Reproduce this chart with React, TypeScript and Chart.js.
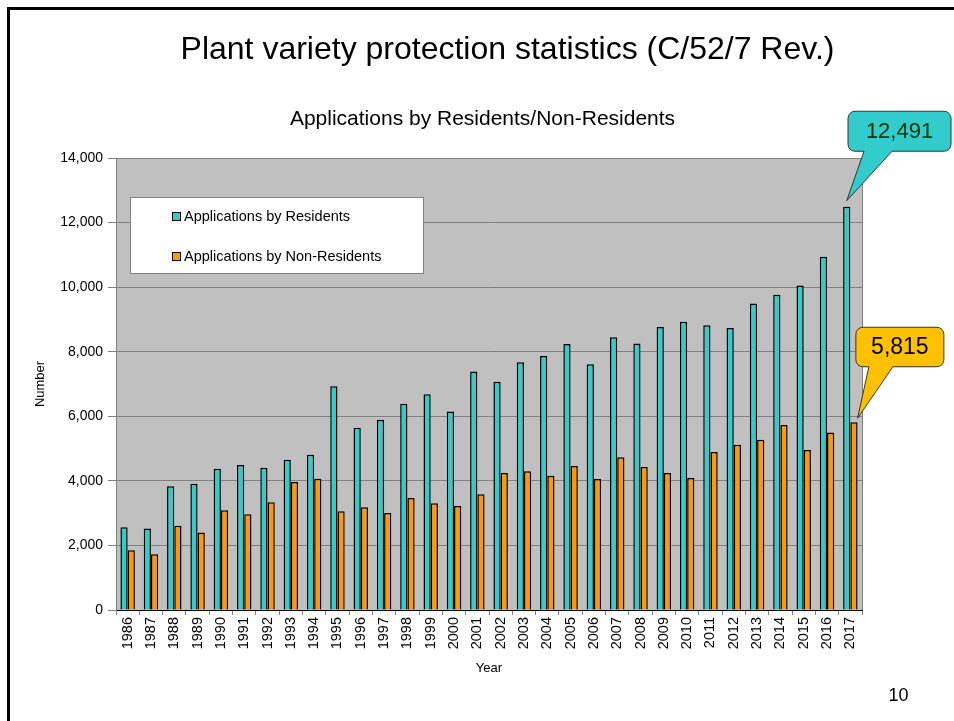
import { useEffect, useRef } from "react";
import { Chart, registerables } from "chart.js";

Chart.register(...registerables);

const years = [
  "1986", "1987", "1988", "1989", "1990", "1991", "1992", "1993", "1994", "1995", "1996",
  "1997", "1998", "1999", "2000", "2001", "2002", "2003", "2004", "2005", "2006", "2007",
  "2008", "2009", "2010", "2011", "2012", "2013", "2014", "2015", "2016", "2017",
];

const residents = [
  2565, 2524, 3832, 3914, 4378, 4491, 4409, 4656, 4811, 6932, 5645,
  5892, 6386, 6685, 6150, 7386, 7067, 7674, 7870, 8241, 7612, 8447,
  8251, 8766, 8931, 8818, 8735, 9496, 9765, 10053, 10940, 12491,
];

const nonResidents = [
  1854, 1730, 2606, 2400, 3090, 2967, 3337, 3966, 4069, 3059, 3183,
  3008, 3472, 3307, 3224, 3585, 4244, 4296, 4162, 4460, 4058, 4728,
  4429, 4244, 4089, 4893, 5120, 5275, 5727, 4954, 5501, 5815,
];

const seriesNames = ["Applications by Residents", "Applications by Non-Residents"];
const seriesColors = ["#33CCCC", "#FF9900"];
const calloutFills = ["#33CCCC", "#FFC000"];
const calloutTextColors = ["#003300", "#000000"];

const FONT = "'Liberation Sans', Arial, sans-serif";

function calloutPath(
  ctx: CanvasRenderingContext2D,
  x: number, y: number, w: number, h: number, r: number,
  b1: number, b2: number, tx: number, ty: number
) {
  ctx.beginPath();
  ctx.moveTo(x + r, y);
  ctx.lineTo(x + w - r, y);
  ctx.arcTo(x + w, y, x + w, y + r, r);
  ctx.lineTo(x + w, y + h - r);
  ctx.arcTo(x + w, y + h, x + w - r, y + h, r);
  ctx.lineTo(b2, y + h);
  ctx.lineTo(tx, ty);
  ctx.lineTo(b1, y + h);
  ctx.lineTo(x + r, y + h);
  ctx.arcTo(x, y + h, x, y + h - r, r);
  ctx.lineTo(x, y + r);
  ctx.arcTo(x, y, x + r, y, r);
  ctx.closePath();
}

const plotBgPlugin = {
  id: "plotBg",
  beforeDraw(chart: any) {
    const { ctx, chartArea } = chart;
    ctx.save();
    ctx.fillStyle = "#C0C0C0";
    ctx.fillRect(chartArea.left, chartArea.top, chartArea.right - chartArea.left, chartArea.bottom - chartArea.top);
    ctx.restore();
  },
  beforeDatasetsDraw(chart: any) {
    const { ctx, chartArea } = chart;
    ctx.save();
    ctx.strokeStyle = "#808080";
    ctx.lineWidth = 1;
    ctx.beginPath();
    ctx.moveTo(chartArea.left, chartArea.top + 0.5);
    ctx.lineTo(chartArea.right + 0.5, chartArea.top + 0.5);
    ctx.lineTo(chartArea.right + 0.5, chartArea.bottom);
    ctx.stroke();
    ctx.restore();
  },
};

const calloutPlugin = {
  id: "callouts",
  afterDatasetsDraw(chart: any) {
    const { ctx } = chart;
    const last = years.length - 1;
    const e0 = chart.getDatasetMeta(0).data[last];
    const e1 = chart.getDatasetMeta(1).data[last];
    const values = [residents[last], nonResidents[last]];
    const specs = [
      { tx: e0.x, ty: e0.y - 6, dx: 1.3, dy: -89.5, w: 103, h: 40, b1: 16, b2: 44, size: 22 },
      { tx: e1.x + e1.width / 2, ty: e1.y - 4, dx: -1.7, dy: -91, w: 88, h: 39.5, b1: 13, b2: 37, size: 23 },
    ];
    specs.forEach((s, i) => {
      const x = s.tx + s.dx;
      const y = s.ty + s.dy;
      ctx.save();
      calloutPath(ctx, x, y, s.w, s.h, 7, x + s.b1, x + s.b2, s.tx, s.ty);
      ctx.fillStyle = calloutFills[i];
      ctx.fill();
      ctx.strokeStyle = "#333333";
      ctx.lineWidth = 1;
      ctx.stroke();
      ctx.fillStyle = calloutTextColors[i];
      ctx.font = `${s.size}px ${FONT}`;
      ctx.textAlign = "center";
      ctx.textBaseline = "middle";
      ctx.fillText(values[i].toLocaleString("en-US"), x + s.w / 2, y + s.h / 2 + 1);
      ctx.restore();
    });
  },
};

export default function App() {
  const canvasRef = useRef<HTMLCanvasElement | null>(null);

  useEffect(() => {
    if (!canvasRef.current) return;
    const chart = new Chart(canvasRef.current, {
      type: "bar",
      data: {
        labels: years,
        datasets: [
          {
            label: seriesNames[0],
            data: residents,
            backgroundColor: seriesColors[0],
            borderColor: "#000000",
            borderWidth: 1.5,
            categoryPercentage: 0.62,
            barPercentage: 1,
          },
          {
            label: seriesNames[1],
            data: nonResidents,
            backgroundColor: seriesColors[1],
            borderColor: "#000000",
            borderWidth: 1.5,
            categoryPercentage: 0.62,
            barPercentage: 1,
          },
        ],
      },
      options: {
        animation: false,
        responsive: false,
        devicePixelRatio: 1,
        layout: { padding: { left: 24, right: 92, top: 158, bottom: 40 } },
        plugins: {
          legend: { display: false },
          title: { display: false },
          tooltip: { enabled: false },
        },
        scales: {
          x: {
            offset: true,
            grid: {
              display: true,
              drawOnChartArea: false,
              drawTicks: true,
              tickLength: 5,
              color: "#808080",
              offset: true,
            },
            border: { display: true, color: "#000000", width: 1 },
            ticks: {
              autoSkip: false,
              minRotation: 90,
              maxRotation: 90,
              padding: 2,
              color: "#000000",
              font: { family: FONT, size: 14.5 },
            },
            title: {
              display: true,
              text: "Year",
              color: "#000000",
              font: { family: FONT, size: 13 },
              padding: { top: 0, bottom: 5 },
            },
            afterFit: (scale: any) => {
              scale.height = 71;
            },
          },
          y: {
            min: 0,
            max: 14000,
            ticks: {
              stepSize: 2000,
              padding: 5,
              color: "#000000",
              font: { family: FONT, size: 14 },
              callback: (v: any) => Number(v).toLocaleString("en-US"),
            },
            grid: { color: "#808080", tickLength: 8, lineWidth: 1 },
            border: { display: true, color: "#808080", width: 1 },
            title: {
              display: true,
              text: "Number",
              color: "#000000",
              font: { family: FONT, size: 13 },
              padding: { top: 9, bottom: 0 },
            },
            afterFit: (scale: any) => {
              scale.width = 92;
            },
          },
        },
      },
      plugins: [plotBgPlugin, calloutPlugin],
    });
    return () => chart.destroy();
  }, []);

  const legendRow = (i: number, top: number) => (
    <div
      style={{
        position: "absolute",
        left: 172,
        top: top - 9,
        height: 18,
        display: "flex",
        alignItems: "center",
        whiteSpace: "nowrap",
      }}
    >
      <span
        style={{
          display: "inline-block",
          width: 7,
          height: 7,
          background: seriesColors[i],
          border: "1px solid #000",
          marginRight: 3,
        }}
      />
      <span style={{ fontFamily: FONT, fontSize: 14.5, color: "#000", lineHeight: "18px" }}>{seriesNames[i]}</span>
    </div>
  );

  return (
    <div
      style={{
        position: "fixed",
        left: 0,
        top: 0,
        width: 954,
        height: 721,
        background: "#ffffff",
        overflow: "hidden",
      }}
    >
      <canvas ref={canvasRef} width={954} height={721} style={{ position: "absolute", left: 0, top: 0 }} />
      <div
        style={{
          position: "absolute",
          left: 7,
          top: 7,
          width: 1000,
          height: 800,
          borderTop: "3px solid #000",
          borderLeft: "3px solid #000",
          pointerEvents: "none",
        }}
      />
      <div
        style={{
          position: "absolute",
          left: 507.5,
          top: 31.8,
          transform: "translateX(-50%)",
          fontFamily: FONT,
          fontSize: 32,
          lineHeight: "32px",
          whiteSpace: "nowrap",
          color: "#000",
        }}
      >
        Plant variety protection statistics (C/52/7 Rev.)
      </div>
      <div
        style={{
          position: "absolute",
          left: 482.5,
          top: 107.2,
          transform: "translateX(-50%)",
          fontFamily: FONT,
          fontSize: 21,
          lineHeight: "21px",
          whiteSpace: "nowrap",
          color: "#000",
        }}
      >
        Applications by Residents/Non-Residents
      </div>
      <div
        style={{
          position: "absolute",
          left: 130,
          top: 197,
          width: 294,
          height: 77,
          background: "#ffffff",
          border: "1px solid #808080",
          boxSizing: "border-box",
        }}
      />
      {legendRow(0, 216.3)}
      {legendRow(1, 256)}
      <div
        style={{
          position: "absolute",
          left: 898.5,
          top: 686.2,
          transform: "translateX(-50%)",
          fontFamily: FONT,
          fontSize: 18,
          lineHeight: "18px",
          color: "#000",
        }}
      >
        10
      </div>
    </div>
  );
}
